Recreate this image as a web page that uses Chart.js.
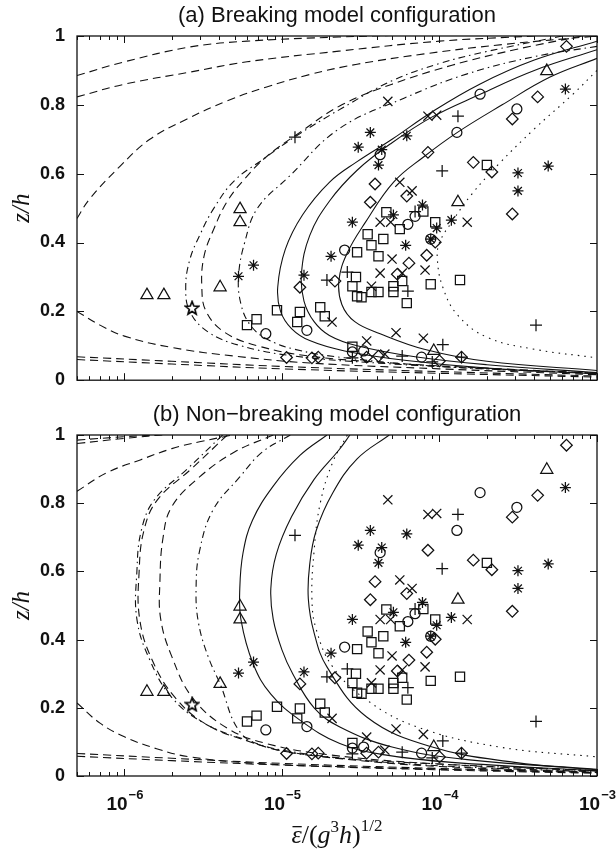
<!DOCTYPE html>
<html>
<head>
<meta charset="utf-8">
<script src="https://cdn.jsdelivr.net/npm/chart.js@4.4.0/dist/chart.umd.min.js"></script>
<style>
  html, body { margin: 0; padding: 0; background: #fff; }
  #wrap { position: relative; width: 616px; height: 850px; }
  #chartA { position: absolute; left: 0; top: 0; }
  #chartB { position: absolute; left: 0; top: 395px; }
</style>
</head>
<body>
<div id="wrap">
  <canvas id="chartA" width="616" height="395"></canvas>
  <canvas id="chartB" width="616" height="455"></canvas>
</div>
<script>
// axes
const xMin = 5e-7, xMax = 1e-3;
const xTickVals = [1e-6, 1e-5, 1e-4, 1e-3];
const xTickExp = ['\u22126', '\u22125', '\u22124', '\u22123'];
const zTicks = [0, 0.2, 0.4, 0.6, 0.8, 1];

// observations (same in both panels)
const triX = [5.42e-6, 5.42e-6, 1.39e-6, 1.78e-6, 4.05e-6, 4.8e-4, 1.31e-4, 9.2e-5];
const triZ = [0.497, 0.459, 0.247, 0.247, 0.27, 0.898, 0.517, 0.085];
const starX = [2.69e-6];
const starZ = [0.21];
const astX = [6.3e-4, 3.64e-5, 6.2e-5, 3.05e-5, 4.3e-5, 4.1e-5, 4.9e-4, 3.15e-4, 3.15e-4, 7.8e-5, 5.1e-5, 2.8e-5, 9.6e-5, 1.19e-4, 6.1e-5, 2.05e-5, 1.38e-5, 6.6e-6, 5.3e-6, 8.8e-5];
const astZ = [0.846, 0.72, 0.71, 0.677, 0.67, 0.625, 0.622, 0.602, 0.55, 0.509, 0.48, 0.459, 0.442, 0.465, 0.392, 0.36, 0.305, 0.334, 0.302, 0.41];
const crossX = [4.7e-5, 8.45e-5, 9.6e-5, 5.6e-5, 6.7e-5, 4.2e-5, 4.9e-5, 1.5e-4, 5.0e-5, 8.1e-5, 4.2e-5, 5.8e-5, 3.7e-5, 2.08e-5, 3.45e-5, 5.3e-5, 7.9e-5, 4.5e-5];
const crossZ = [0.81, 0.767, 0.77, 0.575, 0.55, 0.459, 0.459, 0.459, 0.352, 0.32, 0.311, 0.311, 0.273, 0.169, 0.114, 0.138, 0.122, 0.076];
const plusX = [1.21e-5, 1.31e-4, 1.04e-4, 7.0e-5, 2.6e-5, 1.93e-5, 6.3e-5, 4.1e-4, 1.05e-4, 5.8e-5, 2.8e-5, 9.0e-5, 1.38e-4];
const plusZ = [0.706, 0.767, 0.608, 0.49, 0.314, 0.291, 0.259, 0.16, 0.103, 0.07, 0.065, 0.053, 0.067];
const circX = [1.81e-4, 3.1e-4, 1.29e-4, 4.2e-5, 6.3e-5, 7.0e-5, 8.8e-5, 2.5e-5, 1.44e-5, 7.9e-6, 2.8e-5, 3.3e-5, 7.7e-5];
const circZ = [0.831, 0.788, 0.72, 0.655, 0.453, 0.476, 0.41, 0.378, 0.145, 0.135, 0.082, 0.085, 0.067];
const sqX = [2.0e-4, 4.6e-5, 7.9e-5, 5.6e-5, 9.4e-5, 3.5e-5, 4.4e-5, 3.7e-5, 3.0e-5, 4.1e-5, 2.95e-5, 5.8e-5, 2.8e-5, 4.1e-5, 3.7e-5, 5.1e-5, 5.1e-5, 8.8e-5, 1.35e-4, 3.0e-5, 3.2e-5, 6.2e-5, 1.3e-5, 1.75e-5, 1.87e-5, 1.25e-5, 6.0e-6, 6.9e-6, 9.3e-6, 2.8e-5];
const sqZ = [0.625, 0.488, 0.49, 0.439, 0.459, 0.424, 0.41, 0.392, 0.372, 0.36, 0.30, 0.288, 0.273, 0.256, 0.256, 0.273, 0.256, 0.279, 0.291, 0.244, 0.241, 0.224, 0.198, 0.212, 0.186, 0.169, 0.16, 0.177, 0.203, 0.097];
const diaX = [6.4e-4, 4.2e-4, 2.9e-4, 8.45e-5, 1.64e-4, 2.15e-4, 3.9e-5, 6.2e-5, 3.64e-5, 2.9e-4, 9.4e-5, 8.3e-5, 6.4e-5, 2.17e-5, 5.4e-5, 1.3e-5, 1.07e-5, 1.55e-5, 1.7e-5, 3.45e-5, 4.1e-5, 1.0e-4, 1.38e-4];
const diaZ = [0.97, 0.823, 0.759, 0.662, 0.633, 0.605, 0.57, 0.535, 0.517, 0.483, 0.401, 0.363, 0.34, 0.288, 0.308, 0.27, 0.066, 0.065, 0.067, 0.067, 0.07, 0.056, 0.067];

// (a) breaking model profiles
const aDash1UpX = [5e-7, 1e-6, 2.6e-6, 6e-6, 2.3e-5, 1e-4];
const aDash1UpZ = [0.885, 0.925, 0.968, 0.985, 0.997, 1.005];
const aDash2UpX = [5e-7, 1e-6, 2.6e-6, 6e-6, 2.3e-5, 1e-4, 4e-4];
const aDash2UpZ = [0.823, 0.86, 0.895, 0.925, 0.956, 0.985, 1.0];
const aDash3UpX = [5e-7, 6e-7, 9.4e-7, 1.45e-6, 2.5e-6, 4.5e-6, 8e-6, 1.5e-5, 3e-5, 8e-5, 2.5e-4, 1e-3];
const aDash3UpZ = [0.47, 0.526, 0.622, 0.70, 0.759, 0.812, 0.852, 0.888, 0.918, 0.948, 0.975, 1.0];
const aDash1LoX = [5e-7, 2e-6, 1e-5, 1e-4, 1e-3];
const aDash1LoZ = [0.068, 0.055, 0.04, 0.025, 0.012];
const aDash2LoX = [5e-7, 2e-6, 1e-5, 1e-4, 1e-3];
const aDash2LoZ = [0.06, 0.047, 0.033, 0.02, 0.009];
const aDash3LoX = [5e-7, 7e-7, 1e-6, 2e-6, 5e-6, 1.5e-5, 1e-4, 1e-3];
const aDash3LoZ = [0.20, 0.16, 0.128, 0.095, 0.07, 0.05, 0.033, 0.016];
const aDotDash1X = [6e-4, 2e-4, 1e-4, 5e-5, 2.4e-5, 1.2e-5, 7.5e-6, 5e-6, 3.7e-6, 3e-6, 2.6e-6, 2.45e-6, 2.6e-6, 3.4e-6, 5.5e-6, 1.2e-5, 4e-5, 2e-4, 1e-3];
const aDotDash1Z = [1.0, 0.955, 0.92, 0.87, 0.79, 0.706, 0.64, 0.58, 0.50, 0.42, 0.35, 0.27, 0.20, 0.14, 0.10, 0.07, 0.05, 0.033, 0.02];
const aDash4X = [8e-4, 3e-4, 1.2e-4, 5e-5, 2.4e-5, 1.3e-5, 8e-6, 5.8e-6, 4.5e-6, 3.7e-6, 3.2e-6, 3.1e-6, 3.3e-6, 4.3e-6, 7e-6, 1.5e-5, 5e-5, 2e-4, 1e-3];
const aDash4Z = [1.0, 0.96, 0.915, 0.86, 0.80, 0.72, 0.65, 0.585, 0.52, 0.44, 0.36, 0.27, 0.20, 0.14, 0.10, 0.07, 0.05, 0.035, 0.02];
const aDotDash2X = [1e-3, 4e-4, 1.5e-4, 6e-5, 2.3e-5, 1.1e-5, 7e-6, 5.8e-6, 5.3e-6, 5.5e-6, 6.3e-6, 8e-6, 1.2e-5, 2.5e-5, 1e-4, 1e-3];
const aDotDash2Z = [0.97, 0.94, 0.89, 0.82, 0.73, 0.59, 0.50, 0.40, 0.30, 0.22, 0.16, 0.12, 0.09, 0.065, 0.04, 0.02];
const aSolid1X = [1e-3, 4e-4, 1.8e-4, 9e-5, 5e-5, 3e-5, 2e-5, 1.35e-5, 1.05e-5, 9.4e-6, 9.8e-6, 1.15e-5, 1.5e-5, 2.5e-5, 6e-5, 2e-4, 1e-3];
const aSolid1Z = [0.985, 0.93, 0.86, 0.78, 0.70, 0.635, 0.575, 0.48, 0.38, 0.27, 0.20, 0.15, 0.115, 0.085, 0.058, 0.035, 0.018];
const aSolid2X = [1e-3, 4e-4, 1.8e-4, 9e-5, 5e-5, 3e-5, 2e-5, 1.5e-5, 1.33e-5, 1.38e-5, 1.6e-5, 2e-5, 3e-5, 7e-5, 2e-4, 1e-3];
const aSolid2Z = [0.96, 0.90, 0.83, 0.765, 0.69, 0.61, 0.52, 0.42, 0.31, 0.23, 0.17, 0.13, 0.10, 0.068, 0.045, 0.022];
const aSolid3X = [1e-3, 5e-4, 2.5e-4, 1.3e-4, 8e-5, 5.1e-5, 3.4e-5, 2.6e-5, 2.3e-5, 2.4e-5, 2.9e-5, 4.2e-5, 8e-5, 2e-4, 1e-3];
const aSolid3Z = [0.935, 0.88, 0.80, 0.72, 0.65, 0.575, 0.46, 0.37, 0.29, 0.22, 0.17, 0.135, 0.09, 0.055, 0.028];
const aDotX = [1e-3, 7e-4, 4e-4, 2.4e-4, 1.6e-4, 1.2e-4, 1e-4, 9.7e-5, 1.05e-4, 1.3e-4, 2e-4, 4e-4, 1e-3];
const aDotZ = [0.90, 0.83, 0.73, 0.63, 0.54, 0.46, 0.40, 0.35, 0.27, 0.19, 0.125, 0.09, 0.065];

// (b) non-breaking model profiles
const bDash1UpX = [5e-7, 7.7e-7, 1.26e-6, 2e-6, 3e-6, 4.5e-6, 6e-6];
const bDash1UpZ = [0.835, 0.889, 0.927, 0.96, 0.98, 0.997, 1.01];
const bDash1LoX = [5e-7, 7e-7, 1e-6, 1.6e-6, 2.6e-6, 6.9e-6, 3e-5, 1e-4, 1e-3];
const bDash1LoZ = [0.214, 0.155, 0.115, 0.08, 0.056, 0.037, 0.026, 0.02, 0.01];
const bDash2UpX = [5e-7, 1e-6, 2e-6, 3e-6];
const bDash2UpZ = [0.985, 0.995, 1.003, 1.01];
const bDash3UpX = [5e-7, 1e-6, 2e-6];
const bDash3UpZ = [0.975, 0.99, 1.003];
const bDash2LoX = [5e-7, 2e-6, 1e-5, 1e-4, 1e-3];
const bDash2LoZ = [0.066, 0.052, 0.037, 0.022, 0.01];
const bDash3LoX = [5e-7, 2e-6, 1e-5, 1e-4, 1e-3];
const bDash3LoZ = [0.058, 0.045, 0.032, 0.018, 0.008];
const bDotDash1X = [4.2e-6, 2.5e-6, 1.55e-6, 1.28e-6, 1.2e-6, 1.2e-6, 1.45e-6, 2e-6, 3.2e-6, 6e-6, 1e-5, 3e-5, 1e-4, 1e-3];
const bDotDash1Z = [1.0, 0.90, 0.81, 0.72, 0.60, 0.46, 0.34, 0.23, 0.155, 0.105, 0.076, 0.048, 0.03, 0.012];
const bDash4X = [4.5e-6, 2.65e-6, 1.62e-6, 1.33e-6, 1.24e-6, 1.25e-6, 1.5e-6, 2.1e-6, 3.35e-6, 6.3e-6, 1.05e-5, 3e-5, 1e-4, 1e-3];
const bDash4Z = [1.0, 0.90, 0.81, 0.72, 0.60, 0.46, 0.34, 0.23, 0.15, 0.10, 0.072, 0.046, 0.028, 0.011];
const bDash5X = [8.8e-6, 5e-6, 3e-6, 2e-6, 1.76e-6, 1.68e-6, 1.7e-6, 2e-6, 2.7e-6, 4.5e-6, 8e-6, 2e-5, 1e-4, 1e-3];
const bDash5Z = [1.0, 0.95, 0.877, 0.79, 0.70, 0.57, 0.46, 0.35, 0.23, 0.14, 0.095, 0.062, 0.035, 0.015];
const bDotDash2X = [1.13e-5, 7.5e-6, 5.4e-6, 3.65e-6, 3e-6, 2.85e-6, 2.95e-6, 3.4e-6, 4.05e-6, 5.4e-6, 8e-6, 2e-5, 1e-4, 1e-3];
const bDotDash2Z = [1.0, 0.95, 0.877, 0.78, 0.66, 0.55, 0.45, 0.35, 0.27, 0.13, 0.085, 0.055, 0.035, 0.016];
const bSolid1X = [1.93e-5, 1.3e-5, 8.8e-6, 6.5e-6, 5.66e-6, 5.4e-6, 5.5e-6, 6.55e-6, 8.5e-6, 1.3e-5, 2.33e-5, 4.5e-5, 1.2e-4, 1e-3];
const bSolid1Z = [1.0, 0.94, 0.85, 0.75, 0.654, 0.55, 0.457, 0.33, 0.24, 0.164, 0.095, 0.062, 0.04, 0.015];
const bSolid2X = [2.7e-5, 2.3e-5, 1.6e-5, 1.15e-5, 9.2e-6, 8.5e-6, 8.8e-6, 1.0e-5, 1.17e-5, 1.6e-5, 2.33e-5, 5e-5, 1.5e-4, 1e-3];
const bSolid2Z = [1.0, 0.956, 0.87, 0.76, 0.65, 0.55, 0.46, 0.37, 0.30, 0.20, 0.144, 0.085, 0.048, 0.02];
const bDotX = [2.6e-5, 2.1e-5, 1.75e-5, 1.6e-5, 1.55e-5, 1.65e-5, 2.1e-5, 3.45e-5, 7.2e-5, 2.4e-4, 1e-3];
const bDotZ = [1.0, 0.92, 0.80, 0.66, 0.52, 0.43, 0.32, 0.223, 0.144, 0.085, 0.056];
const bSolid3X = [4.8e-5, 3e-5, 2.1e-5, 1.65e-5, 1.5e-5, 1.47e-5, 1.6e-5, 1.93e-5, 3.45e-5, 9e-5, 3e-4, 1e-3];
const bSolid3Z = [1.0, 0.93, 0.83, 0.72, 0.62, 0.52, 0.42, 0.32, 0.173, 0.085, 0.04, 0.018];

const ink = '#111';
const DASH = [8, 5], DOTDASH = [7, 4, 1.5, 4], DOT = [1.5, 5], SOLID = [];

function pts(xs, zs) {
  return xs.map((x, i) => ({ x: x, y: zs[i] }));
}

function curve(xs, zs, dash) {
  return {
    data: pts(xs, zs), showLine: true, pointRadius: 0, pointHitRadius: 0,
    borderColor: ink, borderWidth: 1.1, borderDash: dash, tension: 0.4, fill: false
  };
}

function marks(xs, zs, style, r) {
  return {
    data: pts(xs, zs), showLine: false, pointStyle: style, pointRadius: r,
    pointHoverRadius: r, borderColor: ink, backgroundColor: 'rgba(0,0,0,0)', borderWidth: 1.25
  };
}

// pentagram as a small canvas (no built-in style for it)
function pentagram() {
  const c = document.createElement('canvas');
  c.width = 16; c.height = 16;
  const g = c.getContext('2d');
  g.beginPath();
  for (let i = 0; i < 10; i++) {
    const a = -Math.PI / 2 + i * Math.PI / 5;
    const r = i % 2 ? 3 : 7;
    g.lineTo(8 + r * Math.cos(a), 8.5 + r * Math.sin(a));
  }
  g.closePath();
  g.strokeStyle = '#000'; g.lineWidth = 1.6; g.stroke();
  return c;
}
const starImg = pentagram();

function markerSets() {
  return [
    marks(triX, triZ, 'triangle', 7),
    marks(starX, starZ, starImg, 8),
    marks(astX, astZ, 'star', 5.5),
    marks(crossX, crossZ, 'crossRot', 6.5),
    marks(plusX, plusZ, 'cross', 6),
    marks(circX, circZ, 'circle', 5),
    marks(sqX, sqZ, 'rect', 6.5),
    marks(diaX, diaZ, 'rectRot', 5.8)
  ];
}

const frameTicks = {
  id: 'frameTicks',
  afterDatasetsDraw(chart) {
    const { ctx, chartArea: a, scales } = chart;
    ctx.save();
    ctx.strokeStyle = ink;
    ctx.lineWidth = 1.3;
    ctx.strokeRect(a.left, a.top, a.right - a.left, a.bottom - a.top);
    ctx.lineWidth = 1;
    ctx.beginPath();
    for (let e = -7; e <= -3; e++) {
      for (let m = 1; m <= 9; m++) {
        const v = m * Math.pow(10, e);
        if (v < xMin * 0.999 || v > xMax * 1.001) continue;
        const px = Math.round(scales.x.getPixelForValue(v)) + 0.5;
        const len = m === 1 ? 7 : 4;
        ctx.moveTo(px, a.bottom); ctx.lineTo(px, a.bottom - len);
        ctx.moveTo(px, a.top); ctx.lineTo(px, a.top + len);
      }
    }
    zTicks.forEach(z => {
      const py = Math.round(scales.y.getPixelForValue(z)) + 0.5;
      ctx.moveTo(a.left, py); ctx.lineTo(a.left + 7, py);
      ctx.moveTo(a.right, py); ctx.lineTo(a.right - 7, py);
    });
    ctx.stroke();
    ctx.restore();
  },
  afterDraw(chart, args, opts) {
    const { ctx, chartArea: a, scales } = chart;
    ctx.save();
    ctx.fillStyle = ink;
    // title
    ctx.font = '22px "Liberation Sans", Arial, sans-serif';
    ctx.textAlign = 'center';
    ctx.textBaseline = 'alphabetic';
    ctx.fillText(opts.title, (a.left + a.right) / 2, opts.titleY);
    // y label
    ctx.save();
    ctx.translate(22, (a.top + a.bottom) / 2);
    ctx.rotate(-Math.PI / 2);
    ctx.font = 'italic 25px "Liberation Serif", serif';
    ctx.textBaseline = 'middle';
    ctx.fillText('z/h', 0, 0);
    ctx.restore();
    if (opts.xLabels) {
      // decade labels
      const fBig = 'bold 19px "Liberation Sans", Arial, sans-serif';
      const fSup = 'bold 13px "Liberation Sans", Arial, sans-serif';
      xTickVals.forEach((v, i) => {
        const px = scales.x.getPixelForValue(v);
        ctx.font = fBig;
        const w1 = ctx.measureText('10').width;
        ctx.font = fSup;
        const w2 = ctx.measureText(xTickExp[i]).width;
        const x0 = px - (w1 + w2) / 2;
        ctx.textAlign = 'left';
        ctx.font = fBig;
        ctx.fillText('10', x0, a.bottom + 34);
        ctx.font = fSup;
        ctx.fillText(xTickExp[i], x0 + w1 + 1, a.bottom + 23);
      });
      // axis label
      const parts = [
        { t: '\u03B5', f: 'italic 26px "Liberation Serif", serif', dy: 0, bar: true },
        { t: '/(', f: '26px "Liberation Serif", serif', dy: 0 },
        { t: 'g', f: 'italic 26px "Liberation Serif", serif', dy: 0 },
        { t: '3', f: '17px "Liberation Serif", serif', dy: -11 },
        { t: 'h', f: 'italic 26px "Liberation Serif", serif', dy: 0 },
        { t: ')', f: '26px "Liberation Serif", serif', dy: 0 },
        { t: '1/2', f: '17px "Liberation Serif", serif', dy: -12 }
      ];
      let total = 0;
      parts.forEach(p => { ctx.font = p.f; p.w = ctx.measureText(p.t).width; total += p.w; });
      let x = (a.left + a.right) / 2 - total / 2;
      const base = a.bottom + 67;
      ctx.textAlign = 'left';
      parts.forEach(p => {
        ctx.font = p.f;
        ctx.fillText(p.t, x, base + p.dy);
        if (p.bar) {
          ctx.fillRect(x + 1, base - 17, p.w - 1, 1.3);
        }
        x += p.w;
      });
    }
    ctx.restore();
  }
};

function makeChart(id, curves, o) {
  const datasets = curves.map(c => curve(c[0], c[1], c[2])).concat(markerSets());
  return new Chart(document.getElementById(id), {
    type: 'scatter',
    data: { datasets: datasets },
    options: {
      responsive: false,
      animation: false,
      events: [],
      layout: { padding: { top: o.top, right: 19, left: 0, bottom: 0 } },
      plugins: {
        legend: { display: false },
        tooltip: { enabled: false },
        frameTicks: { title: o.title, titleY: o.titleY, xLabels: o.xLabels }
      },
      scales: {
        x: {
          type: 'logarithmic', min: xMin, max: xMax,
          ticks: { display: false }, grid: { display: false }, border: { display: false },
          afterFit: s => { s.height = o.xh; }
        },
        y: {
          min: 0, max: 1,
          ticks: {
            stepSize: 0.2, color: ink, padding: 4,
            font: { family: '"Liberation Sans", Arial, sans-serif', size: 18, weight: 'bold' },
            callback: v => String(+v.toFixed(1))
          },
          grid: { display: false }, border: { display: false },
          afterFit: s => { s.width = 77; }
        }
      }
    },
    plugins: [frameTicks]
  });
}

makeChart('chartA', [
  [aDash1UpX, aDash1UpZ, DASH], [aDash2UpX, aDash2UpZ, DASH], [aDash3UpX, aDash3UpZ, DASH],
  [aDash1LoX, aDash1LoZ, DASH], [aDash2LoX, aDash2LoZ, DASH], [aDash3LoX, aDash3LoZ, DASH],
  [aDotDash1X, aDotDash1Z, DOTDASH], [aDash4X, aDash4Z, DASH], [aDotDash2X, aDotDash2Z, DOTDASH],
  [aSolid1X, aSolid1Z, SOLID], [aSolid2X, aSolid2Z, SOLID], [aSolid3X, aSolid3Z, SOLID],
  [aDotX, aDotZ, DOT]
], { top: 36, xh: 14, title: '(a) Breaking model configuration', titleY: 22, xLabels: false });

makeChart('chartB', [
  [bDash1UpX, bDash1UpZ, DASH], [bDash1LoX, bDash1LoZ, DASH],
  [bDash2UpX, bDash2UpZ, DASH], [bDash3UpX, bDash3UpZ, DASH],
  [bDash2LoX, bDash2LoZ, DASH], [bDash3LoX, bDash3LoZ, DASH],
  [bDotDash1X, bDotDash1Z, DOTDASH], [bDash4X, bDash4Z, DASH], [bDash5X, bDash5Z, DASH],
  [bDotDash2X, bDotDash2Z, DOTDASH],
  [bSolid1X, bSolid1Z, SOLID], [bSolid2X, bSolid2Z, SOLID], [bSolid3X, bSolid3Z, SOLID],
  [bDotX, bDotZ, DOT]
], { top: 40, xh: 74, title: '(b) Non\u2212breaking model configuration', titleY: 26, xLabels: true });
</script>
</body>
</html>
